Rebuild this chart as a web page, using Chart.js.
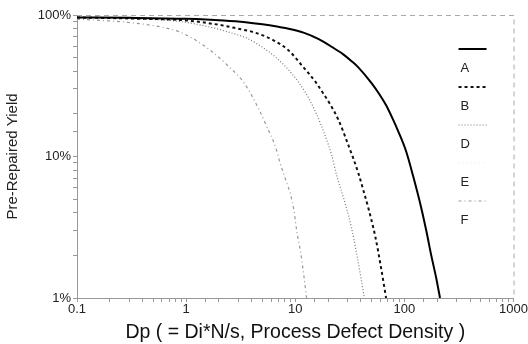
<!DOCTYPE html>
<html>
<head>
<meta charset="utf-8">
<script src="https://cdn.jsdelivr.net/npm/chart.js@4"></script>
<style>
  body { margin: 0; background: #fff; }
  #wrap { width: 528px; height: 344px; }
</style>
</head>
<body>
<div id="wrap"><canvas id="chart"></canvas></div>
<script>
// series (x = Dp, y = yield in %)
var aX = [0.1, 0.3, 1, 2.2, 3.5, 5, 7, 8.7, 11.9, 16.4, 22, 27.7, 33, 38, 50, 60, 68, 78, 88, 104, 120, 142, 160, 175, 195, 212];
var aY = [96, 95.5, 94, 91.5, 89, 86, 82.5, 80, 75, 67.5, 59, 52.5, 47, 42.5, 33, 27, 23, 18.5, 15, 10.8, 7.3, 4.4, 2.9, 2.05, 1.4, 1];

var bX = [0.1, 0.3, 1, 2.23, 3, 4.19, 6.37, 8.73, 11.5, 15.4, 18, 21, 24.9, 30.7, 34, 37.9, 42, 46.8, 54.2, 61.4, 68];
var bY = [96, 94.5, 91.5, 84, 80, 75.5, 66, 56, 44, 33.5, 28, 23.2, 18.1, 12, 9.7, 7.6, 5.8, 4.3, 2.7, 1.6, 1];

var dX = [0.1, 0.3, 0.87, 1.4, 2.01, 2.7, 3.54, 4.4, 5.38, 7.08, 9.3, 12.5, 15.4, 19, 21.5, 23.9, 28.8, 32.7, 36.3, 40.4, 43];
var dY = [96, 94.5, 90, 84.5, 79, 74, 69, 63, 57, 48, 38.5, 28, 20.5, 13.7, 10.3, 7.4, 4.6, 3.15, 2.1, 1.33, 1];

var eX = [];
var eY = [];

var fX = [0.1, 0.19, 0.3, 0.46, 0.65, 0.87, 1.2, 1.73, 2.4, 3.4, 4.65, 5.38, 6.64, 7.08, 8.19, 9.1, 9.7, 10.3, 11.2, 11.9, 12.7];
var fY = [93.5, 91, 88.5, 85, 81, 76, 67, 55, 44, 33, 21.5, 16.8, 11.5, 9.6, 6.8, 5.3, 4.2, 3.0, 2.1, 1.5, 1];

var seriesNames = ["A", "B", "D", "E", "F"];
var xTickValues = [0.1, 1, 10, 100, 1000];
var xTickLabels = ["0.1", "1", "10", "100", "1000"];
var yTickValues = [1, 10, 100];
var yTickLabels = ["1%", "10%", "100%"];

function pts(xs, ys) {
  return xs.map(function (x, i) { return { x: x, y: ys[i] }; });
}

var FONT = '"Liberation Sans", Arial, sans-serif';

// legend drawn as line sample above label, at right of plot
var sideLegend = {
  id: "sideLegend",
  afterDraw: function (chart) {
    var ctx = chart.ctx, area = chart.chartArea;
    chart.data.datasets.forEach(function (ds, i) {
      var y = area.top + 34 + i * 38;
      ctx.save();
      ctx.strokeStyle = ds.borderColor;
      ctx.lineWidth = ds.borderWidth;
      ctx.setLineDash(ds.borderDash || []);
      ctx.beginPath();
      ctx.moveTo(area.right - 55, y);
      ctx.lineTo(area.right - 27, y);
      ctx.stroke();
      ctx.setLineDash([]);
      ctx.fillStyle = "#222";
      ctx.font = "13px " + FONT;
      ctx.textBaseline = "middle";
      ctx.fillText(ds.label, area.right - 53, y + 19);
      ctx.restore();
    });
  }
};

// faint dashed frame on top and right
var frame = {
  id: "frame",
  beforeDatasetsDraw: function (chart) {
    var ctx = chart.ctx, a = chart.chartArea;
    ctx.save();
    ctx.strokeStyle = "#aaa";
    ctx.lineWidth = 1;
    ctx.setLineDash([5, 4]);
    ctx.beginPath();
    ctx.moveTo(a.left, a.top + 0.5);
    ctx.lineTo(a.right + 0.5, a.top + 0.5);
    ctx.lineTo(a.right + 0.5, a.bottom);
    ctx.stroke();
    ctx.restore();
  }
};

var styles = [
  { borderColor: "#000", borderWidth: 2, borderDash: [] },
  { borderColor: "#111", borderWidth: 2, borderDash: [3, 3] },
  { borderColor: "#777", borderWidth: 1.2, borderDash: [1, 2] },
  { borderColor: "#e4e4e4", borderWidth: 1, borderDash: [1, 3] },
  { borderColor: "#999", borderWidth: 1.2, borderDash: [3, 3, 1, 3] }
];
var series = [pts(aX, aY), pts(bX, bY), pts(dX, dY), pts(eX, eY), pts(fX, fY)];

var datasets = series.map(function (d, i) {
  return {
    label: seriesNames[i],
    data: d,
    borderColor: styles[i].borderColor,
    borderWidth: styles[i].borderWidth,
    borderDash: styles[i].borderDash,
    pointRadius: 0,
    fill: false,
    cubicInterpolationMode: "monotone"
  };
});

new Chart(document.getElementById("chart"), {
  type: "line",
  data: { datasets: datasets },
  plugins: [frame, sideLegend],
  options: {
    responsive: true,
    maintainAspectRatio: false,
    animation: false,
    layout: { padding: { top: 15, right: 12, left: 0, bottom: 0 } },
    plugins: { legend: { display: false }, tooltip: { enabled: false } },
    scales: {
      x: {
        type: "logarithmic",
        min: 0.1,
        max: 1000,
        afterFit: function (s) { s.height = 46; },
        grid: { drawOnChartArea: false, tickLength: 4, color: "#999" },
        border: { color: "#999", dash: [5, 4] },
        ticks: {
          autoSkip: false,
          maxRotation: 0,
          padding: 0,
          color: "#222",
          font: { family: FONT, size: 13 },
          callback: function (v) {
            var k = xTickValues.findIndex(function (t) { return Math.abs(Math.log10(t) - Math.log10(v)) < 1e-6; });
            return k < 0 ? "" : xTickLabels[k];
          }
        },
        title: {
          display: true,
          text: "Dp ( = Di*N/s, Process Defect Density )",
          color: "#111",
          font: { family: FONT, size: 19.5 },
          padding: { top: 0, bottom: 0 }
        }
      },
      y: {
        type: "logarithmic",
        min: 1,
        max: 100,
        afterFit: function (s) { s.width = 77; },
        grid: { drawOnChartArea: false, tickLength: 4, color: "#999" },
        border: { color: "#999", dash: [5, 4] },
        ticks: {
          autoSkip: false,
          padding: 2,
          color: "#222",
          font: { family: FONT, size: 13 },
          callback: function (v) {
            var k = yTickValues.findIndex(function (t) { return Math.abs(Math.log10(t) - Math.log10(v)) < 1e-6; });
            return k < 0 ? "" : yTickLabels[k];
          }
        },
        title: {
          display: true,
          text: "Pre-Repaired Yield",
          color: "#222",
          font: { family: FONT, size: 15 },
          padding: { top: 4, bottom: 0 }
        }
      }
    }
  }
});
</script>
</body>
</html>
